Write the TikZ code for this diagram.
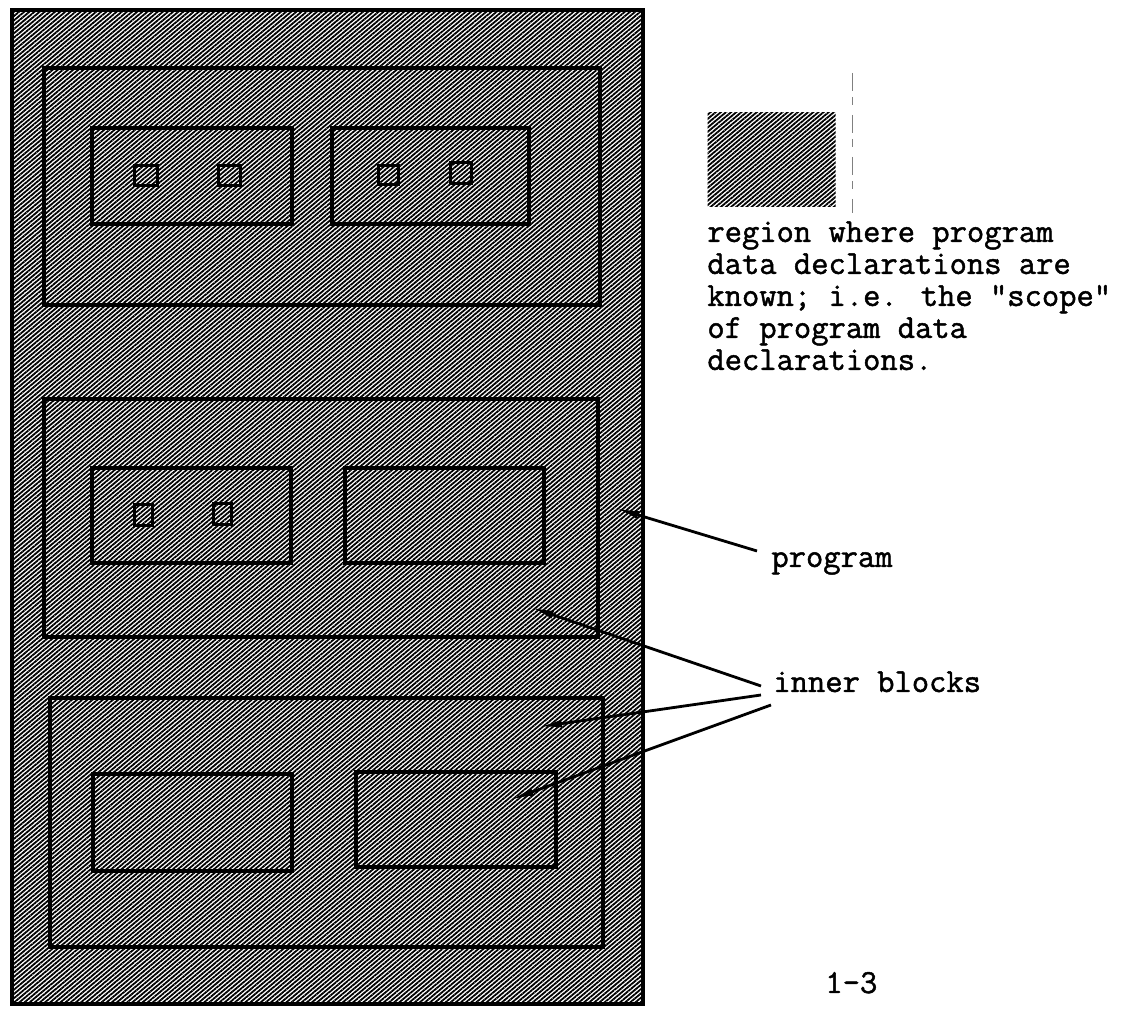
\documentclass[tikz,border=0pt]{standalone}
\usepackage{fontspec}
\newfontfamily\cour[FakeBold=1.4]{Latin Modern Mono}
\usetikzlibrary{patterns.meta,arrows.meta}
\begin{document}
\begin{tikzpicture}[x=0.5pt,y=-0.5pt,
  hatch/.style={pattern={Lines[angle=40,distance=1.65pt,line width=0.9pt]}},
  outerbox/.style={draw,line width=2.4pt,hatch,inner sep=0pt,outer sep=0pt},
  progbox/.style={draw,line width=2pt,rectangle,inner sep=0pt},
  innerbox/.style={draw,line width=2pt,rectangle,inner sep=0pt},
  decl/.style={draw,line width=1.5pt,rectangle,inner sep=0pt},
  lbl/.style={font=\cour\fontsize{16.8}{16}\selectfont,inner sep=0pt,anchor=base west},
  ptr/.style={line width=1.4pt,-{Latex[length=12pt,width=4pt]}}]
\useasboundingbox (0,0) rectangle (1137,1010);
% whole region (scope of program data declarations)
\node[outerbox,minimum width=315.5pt,minimum height=497pt] (scope) at (327.5,507) {};
% program blocks
\node[progbox,minimum width=278pt,minimum height=118.5pt] (p1) at (322,186.5) {};
\node[progbox,minimum width=277pt,minimum height=119pt] (p2) at (321,518) {};
\node[progbox,minimum width=276.5pt,minimum height=124.5pt] (p3) at (326.5,822.5) {};
% inner blocks
\node[innerbox,minimum width=100pt,minimum height=48pt] (b11) at (192,176) {};
\node[innerbox,minimum width=98.5pt,minimum height=48pt] (b12) at (430.5,176) {};
\node[innerbox,minimum width=99.5pt,minimum height=47.5pt] (b21) at (191.5,515.5) {};
\node[innerbox,minimum width=99.5pt,minimum height=47.5pt] (b22) at (444.5,515.5) {};
\node[innerbox,minimum width=99.5pt,minimum height=48.5pt] (b31) at (192.5,822.5) {};
\node[innerbox,minimum width=100pt,minimum height=47.5pt] (b32) at (456,819.5) {};
% small declaration squares
\node[decl,minimum width=11.5pt,minimum height=10pt] (s1) at (145.5,176) {};
\node[decl,minimum width=11pt,minimum height=10pt] (s2) at (229,176) {};
\node[decl,minimum width=10pt,minimum height=9.5pt] (s3) at (388,175.5) {};
\node[decl,minimum width=10.5pt,minimum height=10.5pt] (s4) at (460.5,173.5) {};
\node[decl,minimum width=9pt,minimum height=10.5pt] (s5) at (143,515.5) {};
\node[decl,minimum width=9pt,minimum height=10.5pt] (s6) at (222,514.5) {};
% legend
\node[hatch,minimum width=64pt,minimum height=47pt,inner sep=0pt] (legend) at (771.5,160) {};
\coordinate (dtop) at (852,73);
\coordinate (dbot) at (852,213);
\draw[line width=0.5pt,gray,dash pattern=on 9pt off 3pt on 4pt off 5pt] (dtop) -- (dbot);
\node[lbl,align=left,anchor=north west] (legtext) at (707,221)
  {region where program\\data declarations are\\known; i.e. the "scope"\\of program data\\declarations.};
% labels
\node[lbl] (lprog) at (771,567) {program};
\node[lbl] (linner) at (773,692) {inner blocks};
\node[lbl] (page) at (825,993) {1-3};
% pointers
\coordinate (tp) at (615,508);
\coordinate (sp) at (757,551);
\coordinate (t1) at (530,607);
\coordinate (s1a) at (761,686);
\coordinate (t2) at (538,727);
\coordinate (s2a) at (761,695);
\coordinate (t3) at (510,800);
\coordinate (s3a) at (771,705);
\draw[ptr] (sp) -- (tp);
\draw[ptr] (s1a) -- (t1);
\draw[ptr] (s2a) -- (t2);
\draw[ptr] (s3a) -- (t3);
\end{tikzpicture}
\end{document}
